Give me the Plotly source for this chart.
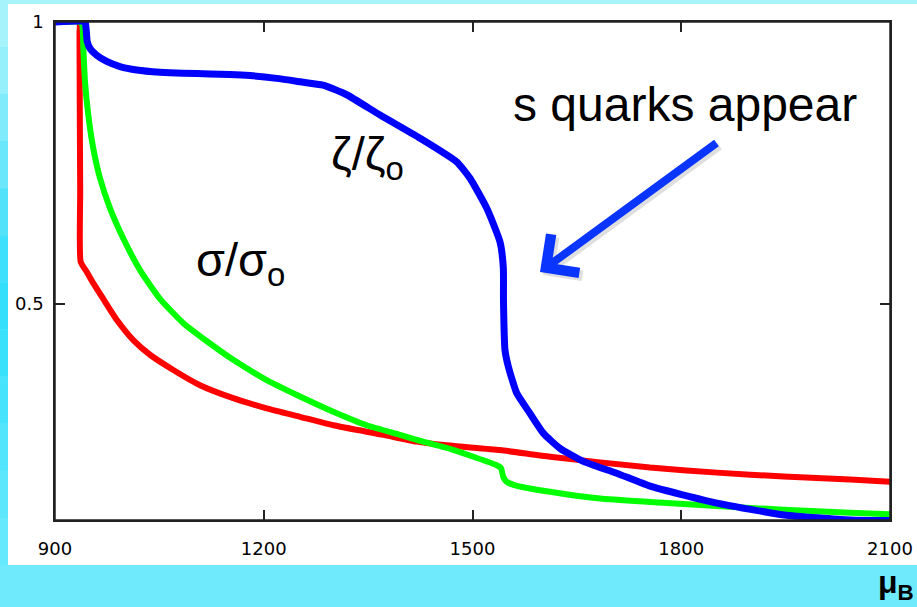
import plotly.graph_objects as go

# ---------------- data ----------------
zeta_x = [900, 943.1, 944.6, 946.4, 950.3, 959.9, 974.3, 993.4, 1017.4, 1050.9, 1084.4, 1122.8,
          1151.5, 1180.2, 1218.6, 1252.3, 1285.2, 1319.2, 1367.2, 1424.5, 1477.3, 1496.4,
          1520.4, 1539.5, 1544.3, 1544.5, 1546.7, 1551.5, 1563.5, 1582.6, 1601.7, 1625.7,
          1659.2, 1707.2, 1755.1, 1851.4, 1947.7, 2042.5, 2100]
zeta_y = [1.000, 1.000, 0.989, 0.965, 0.953, 0.941, 0.930, 0.921, 0.915, 0.911, 0.909, 0.908,
          0.907, 0.905, 0.900, 0.894, 0.888, 0.871, 0.835, 0.794, 0.752, 0.723,
          0.670, 0.610, 0.564, 0.507, 0.418, 0.389, 0.342, 0.306, 0.271, 0.244,
          0.221, 0.200, 0.177, 0.147, 0.126, 0.117, 0.116]

sigma_red_x = [900, 935.0, 935.2, 935.6, 936.2, 936.9, 945.6, 955.0, 969.4, 988.7, 1012.5,
               1036.5, 1070, 1108.4, 1156.2, 1204.2, 1252.1, 1300, 1371.8, 1419.8, 1467.7,
               1539.5, 1611.4, 1755.1, 1851.4, 1947.2, 2042.9, 2100]
sigma_red_y = [1.0, 1.0, 0.98, 0.85, 0.70, 0.575, 0.557, 0.537, 0.509, 0.472, 0.436,
               0.410, 0.383, 0.356, 0.333, 0.315, 0.300, 0.285, 0.268, 0.256, 0.249,
               0.241, 0.229, 0.210, 0.201, 0.194, 0.189, 0.185]

sigma_green_x = [900, 935.9, 939.2, 940.7, 943.1, 947.9, 955.0, 964.7, 979.0, 998.2, 1022.2,
                 1050.9, 1084.4, 1122.8, 1156.2, 1204.2, 1252.1, 1300, 1347.9, 1395.8, 1419.8,
                 1467.7, 1535, 1541, 1544.3, 1549, 1560, 1611.4, 1683.2, 1755.1, 1851.4,
                 1947.2, 2042.5, 2100]
sigma_green_y = [1.0, 1.0, 0.995, 0.953, 0.894, 0.835, 0.776, 0.723, 0.670, 0.616, 0.560,
                 0.509, 0.466, 0.430, 0.401, 0.365, 0.336, 0.309, 0.285, 0.268, 0.259,
                 0.243, 0.214, 0.209, 0.193, 0.185, 0.179, 0.167, 0.155, 0.149, 0.142,
                 0.135, 0.130, 0.127]

x_ticks = [900, 1200, 1500, 1800, 2100]
x_tick_labels = ["900", "1200", "1500", "1800", "2100"]
y_ticks = [0.5, 1.0]
y_tick_labels = ["0.5", "1"]

X_RANGE = [900, 2100]
Y_RANGE = [0.117, 1.0]

# ---------------- figure ----------------
W, H = 917, 607
ML, MR, MT, MB = 55, 27, 22, 87
PW, PH = W - ML - MR, H - MT - MB


def px2paper_x(px):
    return (px - ML) / PW


def px2paper_y(py):
    return (H - MB - py) / PH


fig = go.Figure()

line_shape = dict(shape="spline", smoothing=0.5)
fig.add_trace(go.Scatter(x=sigma_red_x, y=sigma_red_y, mode="lines",
                         line=dict(color="#ff0000", width=6, **line_shape), hoverinfo="skip"))
fig.add_trace(go.Scatter(x=sigma_green_x, y=sigma_green_y, mode="lines",
                         line=dict(color="#00ff00", width=6, **line_shape), hoverinfo="skip"))
fig.add_trace(go.Scatter(x=zeta_x, y=zeta_y, mode="lines",
                         line=dict(color="#0000ff", width=7, **line_shape), hoverinfo="skip"))

shapes = []
# background decoration: white panel on cyan frame
shapes.append(dict(type="rect", xref="paper", yref="paper",
                   x0=px2paper_x(0), x1=px2paper_x(W), y0=px2paper_y(0), y1=px2paper_y(4),
                   fillcolor="#a8f4fb", line=dict(width=0), layer="below"))
left_cols = ["#a6f3fb", "#96f0fb", "#80ecfb", "#6ae7fb", "#52e3fb", "#3ee0fb", "#34dffb",
             "#3ae1fb", "#46e3fc", "#52e5fc", "#5ce7fd", "#66e8fd"]
n = len(left_cols)
for i, c in enumerate(left_cols):
    y0 = 565 * i / n
    y1 = 565 * (i + 1) / n
    shapes.append(dict(type="rect", xref="paper", yref="paper",
                       x0=px2paper_x(0), x1=px2paper_x(8), y0=px2paper_y(y0), y1=px2paper_y(y1),
                       fillcolor=c, line=dict(width=0), layer="below"))
shapes.append(dict(type="rect", xref="paper", yref="paper",
                   x0=px2paper_x(8), x1=px2paper_x(W + 2), y0=px2paper_y(4), y1=px2paper_y(565),
                   fillcolor="#ffffff", line=dict(width=0), layer="below"))
# plot frame
shapes.append(dict(type="rect", xref="paper", yref="paper", x0=0, x1=1, y0=0, y1=1,
                   line=dict(color="#222222", width=1.5), layer="above"))

TXT_FONT = "Liberation Sans, Arial"


def label(text, px, py, size):
    return dict(text=text, x=px2paper_x(px), y=px2paper_y(py), xref="paper", yref="paper",
                xanchor="center", yanchor="middle", showarrow=False,
                font=dict(family=TXT_FONT, size=size, color="#000000"))


annotations = [
    label("s quarks appear", 685, 104, 48),
    label("ζ/ζ<sub>o</sub>", 367, 157, 47),
    label("σ/σ<sub>o</sub>", 240, 263, 47),
    label("<b>μ<sub>B</sub></b>", 896, 584, 32),
    # arrow shadow
    dict(text="", x=px2paper_x(543), y=px2paper_y(275), xref="paper", yref="paper",
         showarrow=True, ax=178, ay=-130, arrowhead=4, arrowsize=1.15, arrowwidth=8,
         arrowcolor="rgba(0,0,0,0.12)"),
    # arrow
    dict(text="", x=px2paper_x(540), y=px2paper_y(272), xref="paper", yref="paper",
         showarrow=True, ax=178, ay=-130, arrowhead=4, arrowsize=1.15, arrowwidth=8,
         arrowcolor="#0a35ff"),
]

fig.update_layout(
    width=W, height=H,
    margin=dict(l=ML, r=MR, t=MT, b=MB, pad=0, autoexpand=False),
    paper_bgcolor="#6feafd",
    plot_bgcolor="rgba(0,0,0,0)",
    showlegend=False,
    shapes=shapes,
    annotations=annotations,
    font=dict(family="DejaVu Sans", size=18, color="#000000"),
)
fig.update_xaxes(range=X_RANGE, tickvals=x_ticks, ticktext=x_tick_labels, automargin=False,
                 ticks="inside", ticklen=10, tickwidth=1.5, tickcolor="#222222",
                 showgrid=False, zeroline=False, showline=True, linecolor="#222222",
                 linewidth=1.5, mirror="ticks", ticklabelstandoff=12,
                 tickfont=dict(family="DejaVu Sans", size=18, color="#000000"))
fig.update_yaxes(range=Y_RANGE, tickvals=y_ticks, ticktext=y_tick_labels, automargin=False,
                 ticks="inside", ticklen=10, tickwidth=1.5, tickcolor="#222222",
                 showgrid=False, zeroline=False, showline=True, linecolor="#222222",
                 linewidth=1.5, mirror="ticks", ticklabelstandoff=6,
                 tickfont=dict(family="DejaVu Sans", size=18, color="#000000"))

fig.write_html("out.html")
